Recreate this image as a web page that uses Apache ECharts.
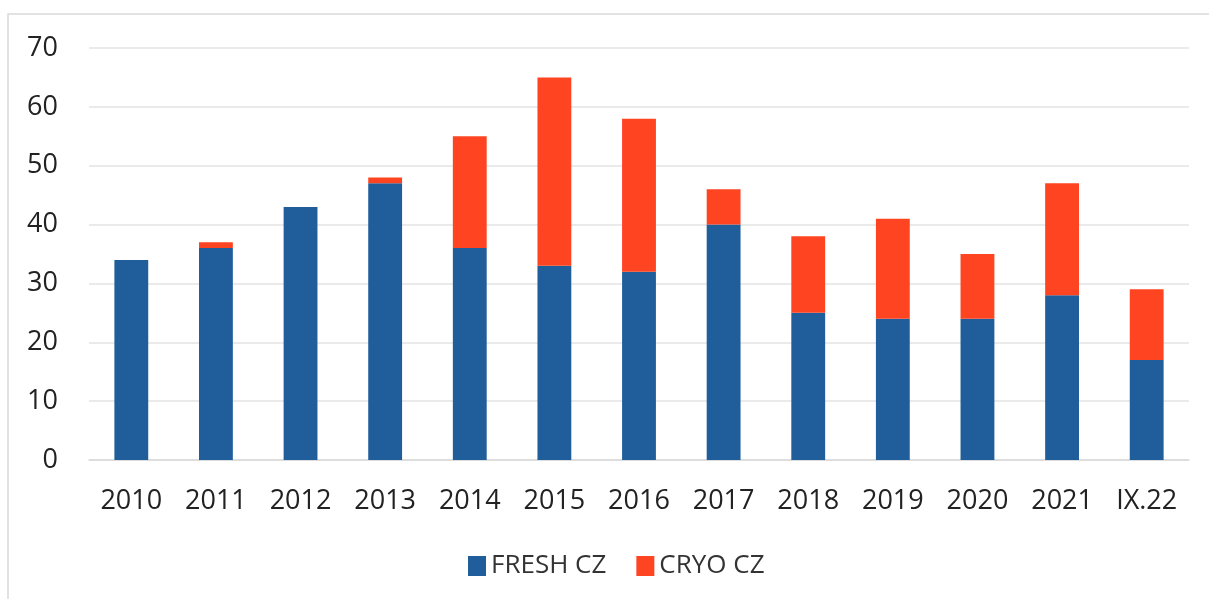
<!DOCTYPE html>
<html>
<head>
<meta charset="utf-8">
<script src="https://cdn.jsdelivr.net/npm/echarts@6/dist/echarts.min.js"></script>
<style>
  html, body { margin: 0; padding: 0; background: #fff; }
  #chart { width: 1209px; height: 599px; }
</style>
</head>
<body>
<div id="chart"></div>
<script>
const categories = ['2010', '2011', '2012', '2013', '2014', '2015', '2016', '2017', '2018', '2019', '2020', '2021', 'IX.22'];
const freshValues = [34, 36, 43, 47, 36, 33, 32, 40, 25, 24, 24, 28, 17];
const cryoValues = [0, 1, 0, 1, 19, 32, 26, 6, 13, 17, 11, 19, 12];
const yTicks = { min: 0, max: 70, interval: 10 };

const chart = echarts.init(document.getElementById('chart'));
const font = '"Open Sans", sans-serif';

chart.setOption({
  animation: false,
  textStyle: { fontFamily: font },
  graphic: [{
    type: 'rect',
    shape: { x: 8, y: 14, width: 1400, height: 800 },
    style: { fill: 'none', stroke: '#d9d9d9', lineWidth: 1.5 },
    silent: true
  }],
  grid: { left: 89, right: 20, top: 48, bottom: 139 },
  legend: {
    top: 548,
    left: 463,
    itemWidth: 18,
    itemHeight: 20,
    itemGap: 30,
    icon: 'rect',
    textStyle: { fontFamily: font, fontSize: 26, color: '#333' },
    data: ['FRESH CZ', 'CRYO CZ']
  },
  xAxis: {
    type: 'category',
    data: categories,
    axisLine: { lineStyle: { color: '#d9d9d9', width: 1.5 } },
    axisTick: { show: false },
    axisLabel: { fontFamily: font, fontSize: 27, color: '#222', margin: 28 }
  },
  yAxis: {
    type: 'value',
    min: yTicks.min,
    max: yTicks.max,
    interval: yTicks.interval,
    axisLine: { show: false },
    axisTick: { show: false },
    splitLine: { lineStyle: { color: '#e3e3e3', width: 1.5 } },
    axisLabel: { fontFamily: font, fontSize: 27, color: '#222', margin: 31 }
  },
  series: [
    {
      name: 'FRESH CZ',
      type: 'bar',
      stack: 'total',
      barWidth: '40%',
      itemStyle: { color: '#1f5e9b' },
      data: freshValues
    },
    {
      name: 'CRYO CZ',
      type: 'bar',
      stack: 'total',
      barWidth: '40%',
      itemStyle: { color: '#ff4422' },
      data: cryoValues
    }
  ]
});
</script>
</body>
</html>
